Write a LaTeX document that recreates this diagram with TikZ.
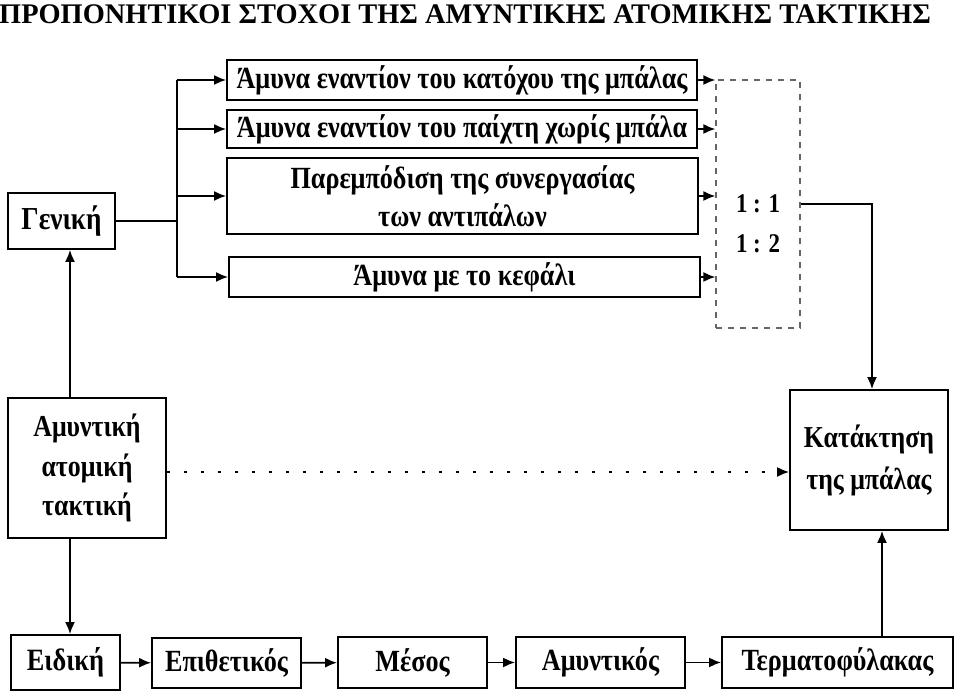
\documentclass[tikz,border=0pt]{standalone}
\usepackage{fontspec}
\setmainfont{Liberation Serif}
\newfontfamily\boxfont[FakeStretch=0.85]{Liberation Serif}
\usetikzlibrary{arrows.meta}
\tikzstyle{plainBox}=[shape = rectangle, draw, line width = 0.9pt, inner sep = 0pt, font = \boxfont\bfseries\fontsize{15.4}{17}\selectfont, align = center]
\tikzstyle{ratioBox}=[shape = rectangle, draw = black!60, dashed, line width = 0.6pt, inner sep = 0pt, font = \boxfont\bfseries\fontsize{13.5}{20}\selectfont, align = center]
\tikzstyle{arr}=[line width = 0.9pt, -{Latex[length=6pt,width=5pt]}]

\begin{document}
\begin{tikzpicture}[x = 0.5pt, y = -0.5pt]
\useasboundingbox (0,0) rectangle (960,699);
\node[font = \bfseries\fontsize{14.2}{16}\selectfont] (title) at (465,14) {ΠΡΟΠΟΝΗΤΙΚΟΙ ΣΤΟΧΟΙ ΤΗΣ ΑΜΥΝΤΙΚΗΣ ΑΤΟΜΙΚΗΣ ΤΑΚΤΙΚΗΣ};
\node[plainBox, minimum width = 53.5pt, minimum height = 28pt, font = \boxfont\bfseries\fontsize{16}{18}\selectfont] (gen) at (61.5,221) {Γενική};
\node[plainBox, minimum width = 235pt, minimum height = 20pt] (a1) at (462,80) {Άμυνα εναντίον του κατόχου της μπάλας};
\node[plainBox, minimum width = 235pt, minimum height = 19pt] (a2) at (462,129) {Άμυνα εναντίον του παίχτη χωρίς μπάλα};
\node[plainBox, minimum width = 235.5pt, minimum height = 38pt, font = \boxfont\bfseries\fontsize{15.4}{19}\selectfont] (a3) at (462.5,196) {Παρεμπόδιση της συνεργασίας\\των αντιπάλων};
\node[plainBox, minimum width = 235.5pt, minimum height = 20pt] (a4) at (464.5,277) {Άμυνα με το κεφάλι};
\node[ratioBox, minimum width = 42pt, minimum height = 124pt] (ratio) at (758,204) {\mbox{}\\[9pt]1 : 1\\1 : 2};
\node[plainBox, minimum width = 79pt, minimum height = 70pt, font = \boxfont\bfseries\fontsize{15.2}{21}\selectfont] (kat) at (869,460) {Κατάκτηση\\της μπάλας};
\node[plainBox, minimum width = 79pt, minimum height = 70pt, font = \boxfont\bfseries\fontsize{15.2}{19.75}\selectfont] (amyn) at (87,468) {Αμυντική\\ατομική\\τακτική};
\node[plainBox, minimum width = 54.5pt, minimum height = 27.5pt, font = \boxfont\bfseries\fontsize{15.5}{17}\selectfont] (eid) at (65.5,662.5) {Ειδική};
\node[plainBox, minimum width = 74.5pt, minimum height = 25pt] (epi) at (226.5,663) {Επιθετικός};
\node[plainBox, minimum width = 74.5pt, minimum height = 25.5pt] (mes) at (412.5,662.5) {Μέσος};
\node[plainBox, minimum width = 84.5pt, minimum height = 25.5pt] (amy) at (600.5,662.5) {Αμυντικός};
\node[plainBox, minimum width = 115.5pt, minimum height = 25.5pt] (ter) at (837.5,662.5) {Τερματοφύλακας};
\coordinate (br) at (177,221);
\draw[line width = 0.9pt] (gen.east) -- (br);
\draw[line width = 0.9pt] (br |- a1.west) -- (br |- a4.west);
\draw[arr] (br |- a1.west) -- (a1.west);
\draw[arr] (br |- a2.west) -- (a2.west);
\draw[arr] (br |- a3.west) -- (a3.west);
\draw[arr] (br |- a4.west) -- (a4.west);
\draw[arr] (a1.east) -- (a1.east -| ratio.west);
\draw[arr] (a2.east) -- (a2.east -| ratio.west);
\draw[arr] (a3.east) -- (a3.east -| ratio.west);
\draw[arr] (a4.east) -- (a4.east -| ratio.west);
\draw[arr] (ratio.east) -| ([xshift=1.5pt]kat.north);
\draw[arr] ([xshift=-8.5pt]amyn.north) -- ([xshift=-8.5pt]amyn.north |- gen.south);
\draw[arr] ([xshift=-8.5pt]amyn.south) -- ([xshift=-8.5pt]amyn.south |- eid.north);
\draw[arr, dash pattern = on 1.5pt off 7pt] ([yshift=-2pt]amyn.east) -- ([yshift=-2pt]amyn.east -| kat.west);
\draw[arr] (eid) -- (epi);
\draw[arr] (epi) -- (mes);
\draw[arr] (mes) -- (amy);
\draw[arr] (amy) -- (ter);
\draw[arr] ([xshift=6.5pt]ter.north -| kat.south) -- ([xshift=6.5pt]kat.south);
\end{tikzpicture}
\end{document}
